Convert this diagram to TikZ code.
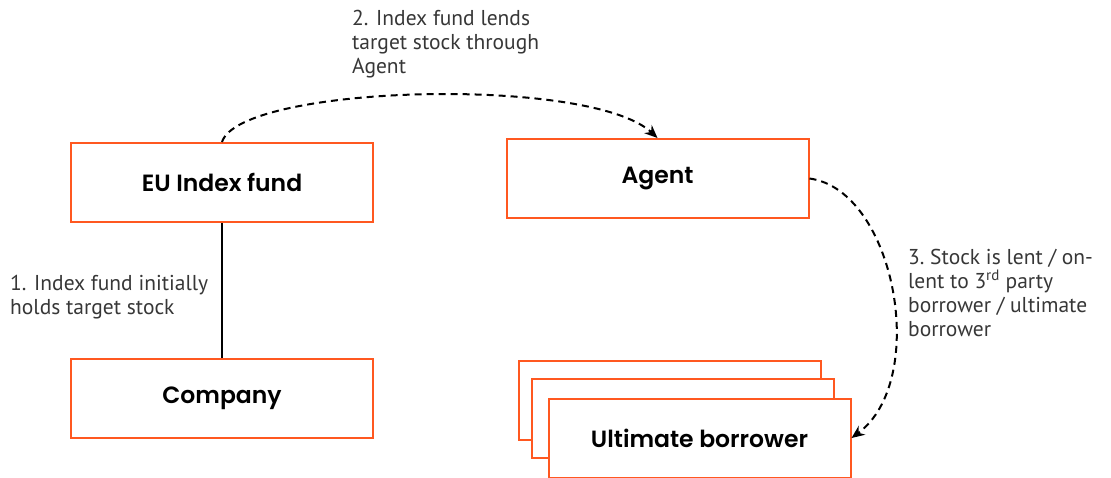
\documentclass[tikz,border=0pt]{standalone}
\usepackage{fontspec}
\setmainfont{PT Sans}
\newfontfamily\widebold{Poppins}[UprightFont=* SemiBold]
\usetikzlibrary{arrows.meta}
\definecolor{boxorange}{RGB}{255,88,32}
\definecolor{txtgray}{RGB}{55,55,55}
\tikzset{
  entity/.style={draw=boxorange, line width=2pt, fill=white, minimum width=302pt, minimum height=79pt, inner sep=0pt, font=\fontsize{23.5}{28}\selectfont\widebold},
  note/.style={align=left, text=txtgray, inner sep=0pt, font=\fontsize{21.5}{24}\selectfont},
  flow/.style={dashed, dash pattern=on 7pt off 5pt, line width=2pt, -{Stealth[length=13pt,width=11pt]}},
  link/.style={line width=1.6pt}
}
\begin{document}
\begin{tikzpicture}[x=1pt,y=-1pt]
\useasboundingbox (0,0) rectangle (1111,477);
\node[entity] (fund) at (222,182.5) {EU Index fund};
\node[entity] (agent) at (657.5,178.5) {Agent};
\node[entity] (company) at (222,398) {Company};
\node[entity] (ub3) at (669.5,400) {};
\node[entity] (ub2) at (683,418) {};
\node[entity] (ub1) at (699.5,438) {Ultimate borrower};
\draw[link] (fund.south) -- (company.north);
\draw[flow] (fund.north) .. controls (240,85) and (590,75) .. (agent.north);
\draw[flow] (agent.east) .. controls (895,190) and (930,380) .. (ub1.east);
\node[note, anchor=north west] (n2) at (352,10) {2. Index fund lends\\target stock through\\Agent};
\node[note, anchor=north west] (n1) at (10,275) {1. Index fund initially\\holds target stock};
\node[note, anchor=north west] (n3) at (908,249) {3.\ Stock is lent / on-\\lent to 3\textsuperscript{rd} party\\borrower / ultimate\\borrower};
\end{tikzpicture}
\end{document}
